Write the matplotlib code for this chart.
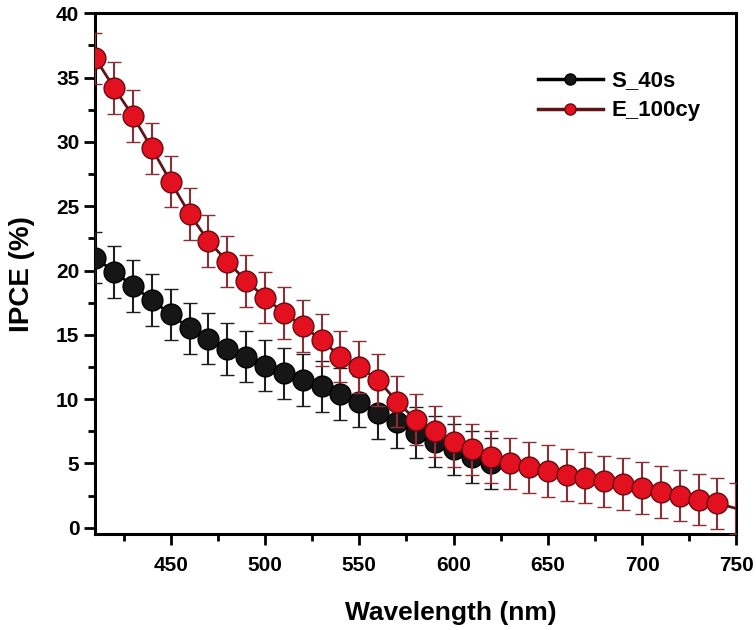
import numpy as np
import matplotlib
matplotlib.use("Agg")
import matplotlib.pyplot as plt
from matplotlib.ticker import MultipleLocator
from matplotlib.lines import Line2D

plt.rcParams['font.family'] = ['Liberation Sans', 'DejaVu Sans']
plt.rcParams['font.weight'] = 'bold'

# data
wl_s = np.arange(410, 630, 10)
ipce_s = [21.0, 19.9, 18.8, 17.7, 16.6, 15.5, 14.7, 13.9, 13.3, 12.6, 12.0,
          11.5, 11.0, 10.4, 9.8, 8.9, 8.2, 7.4, 6.7, 6.1, 5.5, 5.0]
err_s = [2.0] * len(wl_s)

wl_e = np.arange(410, 760, 10)
ipce_e = [36.5, 34.2, 32.0, 29.5, 26.9, 24.4, 22.3, 20.7, 19.2, 17.9, 16.7,
          15.7, 14.6, 13.3, 12.5, 11.5, 9.8, 8.4, 7.5, 6.7, 6.1, 5.5, 5.0,
          4.7, 4.4, 4.1, 3.9, 3.6, 3.4, 3.1, 2.8, 2.5, 2.2, 1.9, 1.5]
err_e = [2.0] * len(wl_e)

blk_line, blk_face = '#000000', '#161616'
red_line, red_face, red_err = '#5e1419', '#e3101f', '#8a2f36'

fig = plt.figure(figsize=(7.56, 6.3), dpi=100)
ax = fig.add_axes([0.126, 0.152, 0.848, 0.827])

ax.errorbar(wl_s, ipce_s, yerr=err_s, color=blk_line, ecolor='#1e1e1e',
            elinewidth=1.5, capsize=5, capthick=1.5, lw=2,
            marker='o', ms=15, mfc=blk_face, mec='#000000', mew=1, zorder=3)
# last point of E_100cy sits on the frame: line only, no marker
ax.errorbar(wl_e, ipce_e, yerr=err_e, color=red_line, ecolor=red_err,
            elinewidth=1.5, capsize=5, capthick=1.5, lw=2,
            marker='o', ms=15, mfc=red_face, mec='#6a0a10', mew=1,
            markevery=slice(0, len(wl_e) - 1), zorder=4)

ax.set_xlim(410, 750)
ax.set_ylim(-0.5, 40)
ax.set_xticks([450, 500, 550, 600, 650, 700, 750])
ax.xaxis.set_minor_locator(MultipleLocator(25))
ax.yaxis.set_major_locator(MultipleLocator(5))
ax.yaxis.set_minor_locator(MultipleLocator(2.5))
ax.tick_params(which='major', direction='out', length=8, width=2, labelsize=15)
ax.tick_params(axis='x', which='major', pad=8)
ax.tick_params(which='minor', direction='out', length=5, width=2)
for s in ax.spines.values():
    s.set_linewidth(2.2)

ax.set_xlabel('Wavelength (nm)', fontsize=19, fontweight='bold')
ax.xaxis.set_label_coords(0.555, -0.128)
ax.set_ylabel('IPCE (%)', fontsize=20, fontweight='bold')
ax.yaxis.set_label_coords(-0.094, 0.5)

handles = [Line2D([], [], color=blk_line, lw=2.5, marker='o', ms=8,
                  mfc=blk_face, mec='#000000'),
           Line2D([], [], color=red_line, lw=2.5, marker='o', ms=8,
                  mfc=red_face, mec='#6a0a10')]
ax.legend(handles, ['S_40s', 'E_100cy'], loc='upper left',
          bbox_to_anchor=(0.691, 0.89), frameon=False, borderpad=0,
          borderaxespad=0, handlelength=2.9, handletextpad=0.4,
          labelspacing=0.4, prop={'weight': 'bold', 'size': 16})
fig.savefig('out.png', dpi=100)
